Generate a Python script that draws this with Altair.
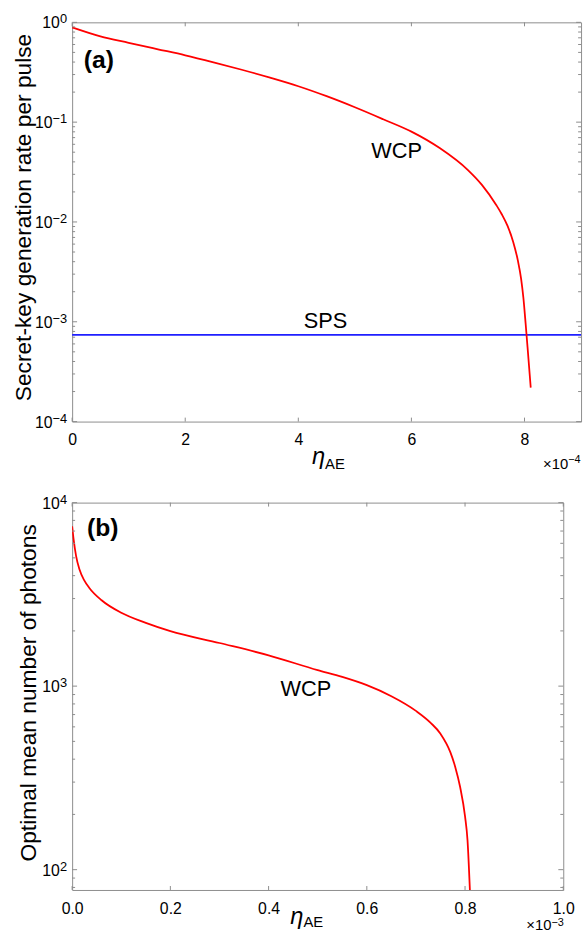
import altair as alt
import pandas as pd

FONT = "Liberation Sans"
GRAY = "#8c8c8c"

# ---------------- Panel (a): secret-key rate vs eta_AE ----------------
a_eta = [0, 0.5e-4, 1e-4, 1.5e-4, 2e-4, 2.5e-4, 3e-4, 3.5e-4, 4e-4, 4.5e-4, 5e-4,
         5.5e-4, 6e-4, 6.5e-4, 7e-4, 7.25e-4, 7.5e-4, 7.6e-4, 7.7e-4, 7.8e-4, 7.88e-4,
         7.94e-4, 7.98e-4, 8.02e-4, 8.06e-4, 8.11e-4]
a_wcp = [0.891, 0.724, 0.624, 0.540, 0.468, 0.398, 0.335, 0.279, 0.229, 0.182, 0.141,
         0.107, 0.0804, 0.055, 0.0331, 0.0234, 0.0148, 0.01189, 0.00912, 0.00631,
         0.00417, 0.00269, 0.00174, 0.000955, 0.000501, 0.000219]
sps_eta = [0, 9e-4]
sps_rate = [7.4e-4, 7.4e-4]
a_xticks = [0, 2e-4, 4e-4, 6e-4, 8e-4]
a_ymajor = [1e-4, 1e-3, 1e-2, 1e-1, 1]
a_yexp = ["−4", "−3", "−2", "−1", "0"]
a_yminor = [k * 10.0 ** e for e in range(-4, 0) for k in range(2, 10)]
a_labels = ["WCP", "SPS"]
a_label_eta = [5.74e-4, 4.48e-4]
a_label_val = [0.0516, 1.02e-3]

# ---------------- Panel (b): optimal mean photon number ----------------
b_eta = [0, 0.003e-3, 0.008e-3, 0.015e-3, 0.025e-3, 0.035e-3, 0.06e-3, 0.1e-3,
         0.15e-3, 0.2e-3, 0.3e-3, 0.4e-3, 0.5e-3, 0.55e-3, 0.6e-3, 0.65e-3, 0.7e-3,
         0.73e-3, 0.75e-3, 0.77e-3, 0.78e-3, 0.79e-3, 0.80e-3, 0.805e-3, 0.81e-3]
b_mu = [7430, 6310, 5129, 4315, 3758, 3428, 2938, 2512,
        2213, 1995, 1718, 1472, 1222, 1122, 1012, 881, 733,
        631, 550, 437, 363, 282, 195, 145, 76]
b_xticks = [0, 0.2e-3, 0.4e-3, 0.6e-3, 0.8e-3, 1.0e-3]
b_ymajor = [100, 1000, 10000]
b_yexp = ["2", "3", "4"]
b_yminor = [80, 90] + [k * 10.0 ** e for e in range(2, 4) for k in range(2, 10)]
b_labels = ["WCP"]
b_label_eta = [0.476e-3]
b_label_val = [962]

WA, HA = 515, 404
WB, HB = 497, 392


def rule_ticks(vals, xf, yf, xs, ys, axis_dir, length, side, W, H):
    df = pd.DataFrame({(yf if axis_dir == "y" else xf): vals})
    base = alt.Chart(df).mark_rule(color=GRAY, strokeWidth=1)
    if axis_dir == "y":
        enc = dict(y=alt.Y(f"{yf}:Q", scale=ys))
        if side == "left":
            enc.update(x=alt.value(0), x2=alt.value(length))
        else:
            enc.update(x=alt.value(W), x2=alt.value(W - length))
    else:
        enc = dict(x=alt.X(f"{xf}:Q", scale=xs))
        if side == "bottom":
            enc.update(y=alt.value(H), y2=alt.value(H - length))
        else:
            enc.update(y=alt.value(0), y2=alt.value(length))
    return base.encode(**enc)


def pow_labels(vals, exps, yf, ys):
    """'10' plus a superscript exponent for each major tick of a log axis."""
    layers = []
    for v, e in zip(vals, exps):
        df = pd.DataFrame({yf: [v], "b": ["10"], "e": [e]})
        ew = 14.8 if e.startswith("−") else 7.5
        layers.append(alt.Chart(df).mark_text(
            font=FONT, fontSize=16, align="right", baseline="middle", dy=1, color="black"
        ).encode(x=alt.value(-5 - ew), y=alt.Y(f"{yf}:Q", scale=ys), text="b:N"))
        layers.append(alt.Chart(df).mark_text(
            font=FONT, fontSize=13, align="right", baseline="alphabetic", dy=1, color="black"
        ).encode(x=alt.value(-5), y=alt.Y(f"{yf}:Q", scale=ys), text="e:N"))
    return layers


def pix_text(txt, x, y, size, align="left", baseline="alphabetic", weight="normal", style="normal"):
    return alt.Chart(pd.DataFrame({"t": [txt]})).mark_text(
        font=FONT, fontSize=size, align=align, baseline=baseline,
        fontWeight=weight, fontStyle=style, color="black"
    ).encode(x=alt.value(x), y=alt.value(y), text="t:N")


def axis_x(values, labelexpr, pad):
    return alt.Axis(values=values, labelExpr=labelexpr, title=None, domain=False,
                    ticks=False, grid=False, labelFontSize=16, labelFont=FONT,
                    labelColor="black", labelPadding=pad, labelFlush=False)


def axis_y(values, title, tx, ty):
    return alt.Axis(values=values, labels=False, title=title, domain=False,
                    ticks=False, grid=False, titleFont=FONT,
                    titleFontSize=23, titleFontWeight="normal", titleColor="black",
                    titleX=tx, titleY=ty, titleAlign="center", titleBaseline="middle")


# ---- panel (a)
xs_a = alt.Scale(domain=[0, 9e-4], nice=False, zero=False)
ys_a = alt.Scale(type="log", domain=[1e-4, 1], nice=False)
df_a = pd.DataFrame({"eta": a_eta, "rate": a_wcp})
df_sps = pd.DataFrame({"eta": sps_eta, "rate": sps_rate})
df_al = pd.DataFrame({"eta": a_label_eta, "rate": a_label_val, "t": a_labels})

ax_a = axis_x(a_xticks, "format(datum.value*1e4,'d')", 10)
ay_a = axis_y(a_ymajor, "Secret-key generation rate per pulse", -49, 197)

sps_line = alt.Chart(df_sps).mark_line(color="#1f1fff", strokeWidth=1.8).encode(
    x=alt.X("eta:Q", scale=xs_a, axis=ax_a),
    y=alt.Y("rate:Q", scale=ys_a, axis=ay_a),
)
wcp_line = alt.Chart(df_a).mark_line(color="#ff0000", strokeWidth=1.8,
                                     interpolate="monotone").encode(
    x=alt.X("eta:Q", scale=xs_a),
    y=alt.Y("rate:Q", scale=ys_a),
)
lab_a = alt.Chart(df_al).mark_text(font=FONT, fontSize=22, color="black").encode(
    x=alt.X("eta:Q", scale=xs_a),
    y=alt.Y("rate:Q", scale=ys_a),
    text="t:N",
)
top = alt.layer(
    sps_line, wcp_line, lab_a,
    rule_ticks(a_xticks, "eta", "rate", xs_a, ys_a, "x", 4, "bottom", WA, HA),
    rule_ticks(a_xticks, "eta", "rate", xs_a, ys_a, "x", 4, "top", WA, HA),
    rule_ticks(a_ymajor, "eta", "rate", xs_a, ys_a, "y", 5, "left", WA, HA),
    rule_ticks(a_ymajor, "eta", "rate", xs_a, ys_a, "y", 5, "right", WA, HA),
    rule_ticks(a_yminor, "eta", "rate", xs_a, ys_a, "y", 3, "left", WA, HA),
    rule_ticks(a_yminor, "eta", "rate", xs_a, ys_a, "y", 3, "right", WA, HA),
    *pow_labels(a_ymajor, a_yexp, "rate", ys_a),
    pix_text("(a)", 27, 46, 25, align="center", weight="bold"),
    pix_text("η", 256, 447, 24, align="right", style="italic"),
    pix_text("AE", 256, 452, 15, align="left"),
    pix_text("×10", 502, 452, 15, align="right"),
    pix_text("−4", 502, 446, 11, align="left"),
).properties(width=WA, height=HA)

# ---- panel (b)
xs_b = alt.Scale(domain=[0, 1e-3], nice=False, zero=False)
ys_b = alt.Scale(type="log", domain=[77.5, 1e4], nice=False)
df_b = pd.DataFrame({"eta": b_eta, "mu": b_mu})
df_bl = pd.DataFrame({"eta": b_label_eta, "mu": b_label_val, "t": b_labels})

ax_b = axis_x(b_xticks, "format(datum.value*1e3,'.1f')", 11)
ay_b = axis_y(b_ymajor, "Optimal mean number of photons", -44, 192)

wcp_b = alt.Chart(df_b).mark_line(color="#ff0000", strokeWidth=1.8, clip=True,
                                  interpolate="monotone").encode(
    x=alt.X("eta:Q", scale=xs_b, axis=ax_b),
    y=alt.Y("mu:Q", scale=ys_b, axis=ay_b),
)
lab_b = alt.Chart(df_bl).mark_text(font=FONT, fontSize=22, color="black").encode(
    x=alt.X("eta:Q", scale=xs_b),
    y=alt.Y("mu:Q", scale=ys_b),
    text="t:N",
)
bottom = alt.layer(
    wcp_b, lab_b,
    rule_ticks(b_xticks, "eta", "mu", xs_b, ys_b, "x", 4, "bottom", WB, HB),
    rule_ticks(b_xticks, "eta", "mu", xs_b, ys_b, "x", 4, "top", WB, HB),
    rule_ticks(b_ymajor, "eta", "mu", xs_b, ys_b, "y", 5, "left", WB, HB),
    rule_ticks(b_ymajor, "eta", "mu", xs_b, ys_b, "y", 5, "right", WB, HB),
    rule_ticks(b_yminor, "eta", "mu", xs_b, ys_b, "y", 3, "left", WB, HB),
    rule_ticks(b_yminor, "eta", "mu", xs_b, ys_b, "y", 3, "right", WB, HB),
    *pow_labels(b_ymajor, b_yexp, "mu", ys_b),
    pix_text("(b)", 31, 34, 25, align="center", weight="bold"),
    pix_text("η", 234, 426, 24, align="right", style="italic"),
    pix_text("AE", 234, 429, 15, align="left"),
    pix_text("×10", 485, 433, 15, align="right"),
    pix_text("−3", 485, 428, 11, align="left"),
).properties(width=WB, height=HB)

chart = alt.VConcatChart(
    vconcat=[top, bottom], spacing=82, bounds="flush",
    padding={"left": 12, "top": 7, "right": 0, "bottom": 0},
).configure_view(stroke=GRAY, strokeWidth=1)

chart.save("out.html", embed_options={"renderer": "svg", "actions": False})
